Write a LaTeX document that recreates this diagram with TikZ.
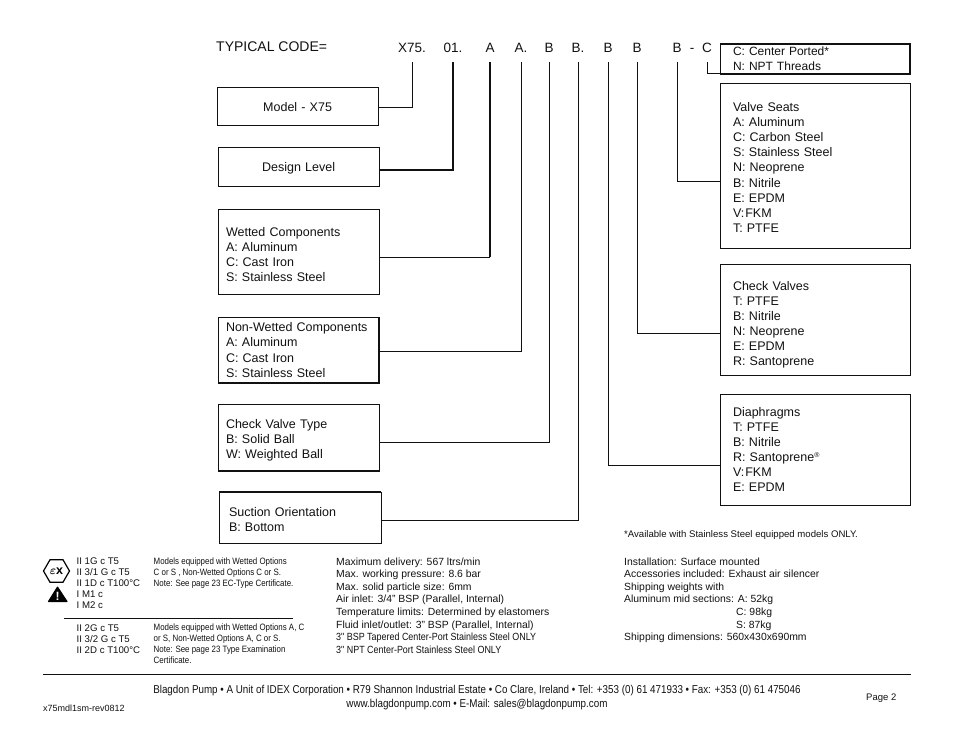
\documentclass[tikz,border=0pt]{standalone}
\usepackage{fontspec}
\setmainfont{Liberation Sans}
\newfontfamily\narrowfont[FakeStretch=0.86]{Liberation Sans}
\usetikzlibrary{arrows.meta,positioning,shapes.geometric}
\definecolor{paperink}{HTML}{111111}
\newcommand{\lift}[1]{\rule{0pt}{#1pt}}
\tikzset{
  boxfont/.style={font=\fontsize{12.5}{15.1}\selectfont,text=paperink},
  leftbox/.style={draw=paperink,line width=.8pt,anchor=north west,outer sep=0pt,
    inner xsep=8pt,inner ysep=0pt,text width=145.2pt,align=left,boxfont},
  rightbox/.style={leftbox,inner xsep=13pt,text width=164.2pt},
  codechar/.style={font=\fontsize{13.5}{15}\selectfont,text=paperink,anchor=base,
    inner sep=0pt,text depth=9pt},
  lead/.style={draw=paperink,line width=.8pt},
  leadthick/.style={draw=paperink,line width=2pt},
  spec/.style={font=\fontsize{10.4}{12.57}\selectfont,text=paperink,anchor=north west,
    align=left,inner sep=0pt},
  atexcode/.style={spec,font=\fontsize{9.65}{10.9}\selectfont},
  fine/.style={spec,font=\narrowfont\fontsize{9.2}{11}\selectfont}
}
\begin{document}
\begin{tikzpicture}[x=1pt,y=-1pt]
  \useasboundingbox (0,0) rectangle (954,738);
  % code line
  \node[font=\fontsize{14}{15}\selectfont,text=paperink,anchor=base west,inner sep=0pt] (typical) at (216,52) {TYPICAL CODE=};
  \node[codechar] (cx) at (412,53) {X75.};
  \node[codechar] (cd) at (453,53) {01.};
  \node[codechar] (cw) at (490,53) {A};
  \node[codechar] (cn) at (521,53) {A.};
  \node[codechar] (ct) at (549,53) {B};
  \node[codechar] (cs) at (578,53) {B.};
  \node[codechar] (cf) at (608,53) {B};
  \node[codechar] (cc) at (637,53) {B};
  \node[codechar] (cv) at (677,53) {B};
  \node[codechar] (cdash) at (692,53) {-};
  \node[codechar] (cp) at (707,53) {C};
  % left column
  \node[leftbox,minimum height=38pt,align=center] (model) at (217,87) {\lift{12}Model - X75};
  \node[leftbox,minimum height=39pt,align=center] (design) at (218,147) {\lift{13}Design Level};
  \node[leftbox,minimum height=85pt] (wetted) at (218,209)
    {\lift{15}Wetted Components\\A: Aluminum\\C: Cast Iron\\S: Stainless Steel};
  \node[leftbox,minimum height=66pt] (nonwet) at (218,317)
    {Non-Wetted Components\\A: Aluminum\\C: Cast Iron\\S: Stainless Steel};
  \node[leftbox,minimum height=67pt] (cvtype) at (218,404)
    {\lift{15}Check Valve Type\\B: Solid Ball\\W: Weighted Ball};
  \node[leftbox,minimum height=51pt,inner xsep=10pt,text width=142.2pt] (suction) at (219,492)
    {\lift{13}Suction Orientation\\B: Bottom};
  % right column
  \node[rightbox,minimum height=30pt,font=\fontsize{12}{15}\selectfont] (port) at (720,44) {C: Center Ported*\\N: NPT Threads};
  \node[rightbox,minimum height=165pt] (seats) at (720,83)
    {\lift{13}Valve Seats\\A: Aluminum\\C: Carbon Steel\\S: Stainless Steel\\N: Neoprene\\B: Nitrile\\E: EPDM\\V:\hspace{1pt}FKM\\T: PTFE};
  \node[rightbox,minimum height=111pt] (checks) at (720,264)
    {\lift{20}Check Valves\\T: PTFE\\B: Nitrile\\N: Neoprene\\E: EPDM\\R: Santoprene};
  \node[rightbox,minimum height=111pt] (diaph) at (720,394)
    {Diaphragms\\T: PTFE\\B: Nitrile\\R: Santoprene\textsuperscript{\scriptsize ®}\\V:\hspace{1pt}FKM\\E: EPDM};
  % heavier edges on some boxes
  \draw[line width=2pt,paperink] (port.north west) -- (port.north east) -- (port.south east) -- (port.south west);
  \draw[line width=1.6pt,paperink] (nonwet.north east) -- (nonwet.south east) -- (nonwet.south west);
  \draw[line width=1.6pt,paperink] (suction.north west) -- (suction.north east);
  \draw[line width=1.4pt,paperink] (cvtype.south west) -- (cvtype.south east);
  % leads
  \draw[lead] (model.east |- 0,107) -| (cx.south);
  \draw[leadthick] (design.east |- 0,170) -| (cd.south);
  \draw[lead] (wetted.east |- 0,257) -- (cw.south |- 0,257);
  \draw[leadthick] (cw.south |- 0,257.4) -- (cw.south);
  \draw[lead] (nonwet.east |- 0,351) -| (cn.south);
  \draw[lead] (cvtype.east |- 0,442) -| (ct.south);
  \draw[lead] (suction.east |- 0,520) -| (cs.south);
  \draw[lead] (diaph.west |- 0,465) -| (cf.south);
  \draw[lead] (checks.west |- 0,333) -| (cc.south);
  \draw[lead] (seats.west |- 0,181) -| (cv.south);
  \draw[lead] (port.west |- 0,73) -| (cp.south);
  % note and certificates
  \node[font=\fontsize{9.6}{11}\selectfont,text=paperink,anchor=base west,inner sep=0pt] (note) at (624,537)
    {*Available with Stainless Steel equipped models ONLY.};
  \node[regular polygon,regular polygon sides=6,draw=black,line width=1.2pt,
    minimum size=26pt,inner sep=0pt,font=\bfseries\boldmath\fontsize{12.5}{13}\selectfont] (exsign) at (56.5,571) {$\varepsilon$x};
  \fill[black,rounded corners=.8pt] (57.5,586) -- (68,602) -- (47.5,602) -- cycle;
  \node[font=\bfseries\fontsize{12}{12}\selectfont,text=white,inner sep=0pt] (warn) at (57.7,596) {!};
  \node[atexcode] (atexa) at (76.5,557.7)
    {II 1G c T5\\II 3/1 G c T5\\II 1D c T100°C\\I M1 c\\I M2 c};
  \node[fine] (atexb) at (153.5,558)
    {Models equipped with Wetted Options\\C or S , Non-Wetted Options C or S.\\Note: See page 23 EC-Type Certificate.};
  \draw[line width=.8pt,paperink] (64,618) -- (293,618);
  \node[atexcode] (atexc) at (76.5,624.5)
    {II 2G c T5\\II 3/2 G c T5\\II 2D c T100°C};
  \node[fine] (atexd) at (153.5,623.5)
    {Models equipped with Wetted Options A, C\\or S, Non-Wetted Options A, C or S.\\Note: See page 23 Type Examination\\Certificate.};
  % specifications
  \node[spec] (specs) at (336,557.5)
    {Maximum delivery: 567 ltrs/min\\Max. working pressure: 8.6 bar\\Max. solid particle size: 6mm\\Air inlet: 3/4" BSP (Parallel, Internal)\\Temperature limits: Determined by elastomers\\Fluid inlet/outlet: 3" BSP (Parallel, Internal)\\{\narrowfont 3" BSP Tapered Center-Port Stainless Steel ONLY}\\{\narrowfont 3" NPT Center-Port Stainless Steel ONLY}};
  \node[spec] (ship) at (624,557.5)
    {Installation: Surface mounted\\Accessories included: Exhaust air silencer\\Shipping weights with\\Aluminum mid sections: A: 52kg\\\hspace*{112pt}C: 98kg\\\hspace*{112pt}S: 87kg\\Shipping dimensions: 560x430x690mm};
  % footer
  \draw[line width=.8pt,paperink] (43,674) -- (911,674);
  \node[font=\narrowfont\fontsize{11.42}{14}\selectfont,text=paperink,align=center,inner sep=0pt] (address) at (477,698)
    {Blagdon Pump • A Unit of IDEX Corporation • R79 Shannon Industrial Estate • Co Clare, Ireland • Tel: +353 (0) 61 471933 • Fax: +353 (0) 61 475046\\www.blagdonpump.com • E-Mail: sales@blagdonpump.com};
  \node[font=\fontsize{9.5}{11}\selectfont,text=paperink,anchor=base west,inner sep=0pt] (page) at (866,700) {Page 2};
  \node[font=\fontsize{9}{11}\selectfont,text=paperink,anchor=base west,inner sep=0pt] (rev) at (43,711) {x75mdl1sm-rev0812};
\end{tikzpicture}
\end{document}
